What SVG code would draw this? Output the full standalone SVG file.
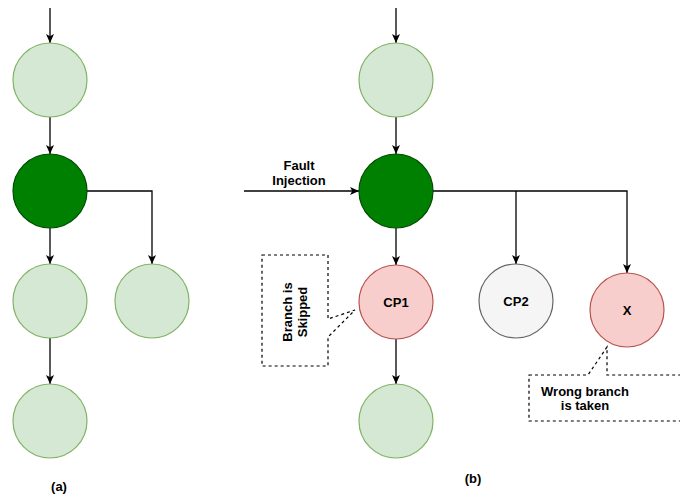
<svg xmlns="http://www.w3.org/2000/svg" width="680" height="497" viewBox="0 0 680 497">
<style>
.lg{fill:#d5e8d4;stroke:#82b366;stroke-width:1.2}
.dg{fill:#008000;stroke:#004d00;stroke-width:1.2}
.pk{fill:#f8cecc;stroke:#b85450;stroke-width:1.2}
.gr{fill:#f5f5f5;stroke:#666666;stroke-width:1.2}
.e{fill:none;stroke:#000;stroke-width:1.3;marker-end:url(#ah)}
.co{fill:#fff;stroke:#000;stroke-width:1.2;stroke-dasharray:3 3}
text{font-family:"Liberation Sans",Arial,sans-serif;font-size:13px;font-weight:bold;fill:#000;text-anchor:middle}
</style>
<defs>
<marker id="ah" markerUnits="userSpaceOnUse" markerWidth="10" markerHeight="10" refX="9" refY="4.5" orient="auto">
<path d="M0,0.5 L9,4.5 L0,8.5 L2.2,4.5 Z" fill="#000"/>
</marker>
</defs>
<rect width="680" height="497" fill="#fff"/>
<g id="connectors">
<path class="e" d="M50,8 V43"/>
<path class="e" d="M50,117 V154"/>
<path class="e" d="M87,191 H152 V264"/>
<path class="e" d="M50,228 V264"/>
<path class="e" d="M50,338 V384"/>
<path class="e" d="M396,8 V43"/>
<path class="e" d="M396,117 V154"/>
<path class="e" d="M244,191 H359"/>
<path class="e" d="M433,191 H627 V273"/>
<path class="e" d="M516,191 V264"/>
<path class="e" d="M396,228 V265"/>
<path class="e" d="M396,339 V384"/>
</g>
<g id="a1"><circle class="lg" cx="50" cy="80" r="37"/></g>
<g id="a2"><circle class="dg" cx="50" cy="191" r="37"/></g>
<g id="a3"><circle class="lg" cx="50" cy="301" r="37"/></g>
<g id="a4"><circle class="lg" cx="152" cy="301" r="37"/></g>
<g id="a5"><circle class="lg" cx="50" cy="421" r="37"/></g>
<g id="b1"><circle class="lg" cx="396" cy="80" r="37"/></g>
<g id="b2"><circle class="dg" cx="396" cy="191" r="37"/></g>
<g id="cp1"><circle class="pk" cx="396" cy="302" r="37"/><text x="396" y="307">CP1</text></g>
<g id="cp2"><circle class="gr" cx="516" cy="301" r="37"/><text x="516" y="306">CP2</text></g>
<g id="x"><circle class="pk" cx="627" cy="310" r="37"/><text x="627" y="315">X</text></g>
<g id="b5"><circle class="lg" cx="396" cy="421" r="37"/></g>
<g id="fault"><text x="299" y="170">Fault</text><text x="299" y="185">Injection</text></g>
<g id="callout1">
<path class="co" d="M262,255 H328 V319 L355,310 L328,337 V366 H262 Z"/>
<text transform="translate(295,312) rotate(-90)"><tspan x="0" y="-3">Branch is</tspan><tspan x="0" y="12">Skipped</tspan></text>
</g>
<g id="callout2">
<path class="co" d="M529,375 H588 L607,347 V375 H690 V421 H529 Z"/>
<text x="585" y="396">Wrong branch</text><text x="585" y="410">is taken</text>
</g>
<g id="labels"><text x="59" y="491">(a)</text><text x="473" y="483">(b)</text></g>
</svg>
